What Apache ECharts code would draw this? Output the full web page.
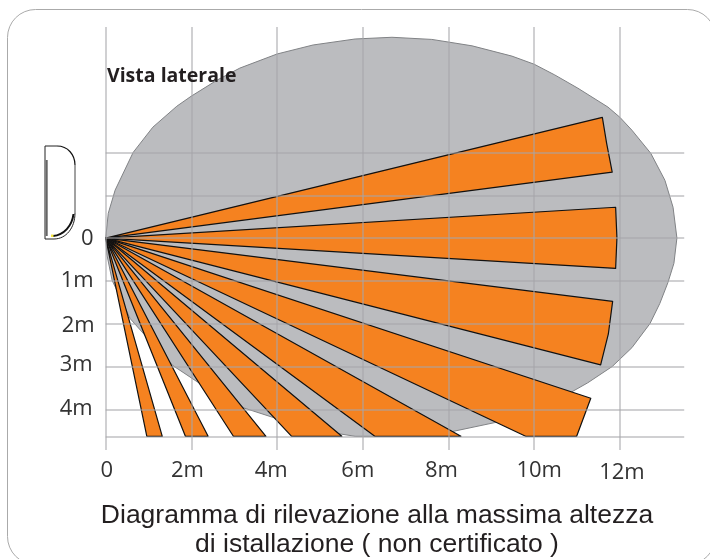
<!DOCTYPE html>
<html>
<head>
	<meta charset="utf-8">
	<title>Vista laterale</title>
	<style>
		html, body { margin: 0; padding: 0; background: #fff; }
		#main { width: 710px; height: 559px; }
	</style>
</head>
<body>
	<div id="main"></div>
	<script src="https://cdn.jsdelivr.net/npm/echarts@6/dist/echarts.min.js"></script>
	<script>
	// tick labels (metres)
	var xTicks = [0, 2, 4, 6, 8, 10, 12];
	var xTickLabels = ['0', '2m', '4m', '6m', '8m', '10m', '12m'];
	var yTicks = [0, -1, -2, -3, -4];
	var yTickLabels = ['0', '1m', '2m', '3m', '4m'];

	// grid lines
	var xGrid = [0, 2, 4, 6, 8, 10, 12];
	var yGrid = [2, 1, 0, -1, -2, -3, -4, -4.63];

	// grey coverage area, [distance, height] in metres
	var coverage = [
		[0, 0], [0.06, 0.58], [0.22, 1.12], [0.64, 2.00], [1.10, 2.59], [1.66, 3.08], [1.99, 3.31],
		[2.60, 3.69], [3.13, 3.97], [4.00, 4.30], [4.84, 4.51], [5.82, 4.65], [6.68, 4.69], [7.61, 4.64],
		[7.99, 4.58], [8.55, 4.49], [9.48, 4.25], [10.00, 4.06], [10.48, 3.81], [11.02, 3.50], [11.72, 3.06],
		[12.00, 2.82], [12.28, 2.52], [12.72, 1.98], [13.05, 1.35], [13.24, 0.72], [13.33, 0], [13.26, -0.59],
		[13.12, -1.04], [12.93, -1.53], [12.70, -2.00], [12.28, -2.56], [11.82, -3.00], [11.25, -3.38],
		[10.88, -3.59], [9.08, -4.31], [7.99, -4.54], [7.45, -4.63], [5.82, -4.63], [5.00, -4.50], [4.00, -4.22],
		[3.20, -3.96], [2.20, -3.40], [1.57, -2.98], [0.96, -2.32], [0.57, -1.88], [0.26, -1.22], [0.15, -0.99],
		[0.03, -0.40]
	];

	// orange detection beams, all start at the sensor [0, 0]
	var beams = [
		[[0, 0], [11.59, 2.82], [11.69, 2.21], [11.82, 1.54]],
		[[0, 0], [11.90, 0.72], [11.93, 0], [11.90, -0.71]],
		[[0, 0], [11.83, -1.48], [11.73, -2.24], [11.55, -2.96]],
		[[0, 0], [11.32, -3.74], [10.99, -4.63], [9.80, -4.63]],
		[[0, 0], [8.29, -4.63], [6.28, -4.63]],
		[[0, 0], [5.51, -4.63], [4.34, -4.63]],
		[[0, 0], [3.74, -4.63], [2.98, -4.63]],
		[[0, 0], [2.39, -4.63], [1.86, -4.63]],
		[[0, 0], [1.32, -4.63], [0.96, -4.63]]
	];

	function polygon(points, api, style) {
		return {
			type: 'polygon',
			shape: { points: points.map(function (p) { return api.coord(p); }) },
			style: style
		};
	}

	// hand placed shift of the labels, they do not sit exactly on the lines
	var xShift = { 0: [1, 0], 2: [-4, 0], 4: [-6, 0], 6: [-5, 0], 8: [-7, 0], 10: [5, 0], 12: [2, 2] };
	var xRich = {};
	xTicks.forEach(function (v) {
		var s = xShift[v][0];
		xRich['t' + v] = { padding: [xShift[v][1], s < 0 ? -2 * s : 0, 0, s > 0 ? 2 * s : 0] };
	});
	// padding top/bottom moves a middle aligned label by half of it
	var yRich = {
		t0: { padding: [1, 1, 0, 0] },
		t1: { padding: [0, 1, 1, 0] },
		t2: { padding: [4, 0, 0, 0] },
		t3: { padding: [0, 2, 4, 0] },
		t4: { padding: [0, 2, 1, 0] }
	};

	var markLineStyle = { color: 'rgba(165,165,170,0.7)', width: 1.5, type: 'solid' };

	var option = {
		animation: false,
		title: [
			{
				text: 'Diagramma di rilevazione alla massima altezza\ndi istallazione ( non certificato )',
				left: 377, top: 501, textAlign: 'center', padding: 0,
				textStyle: { fontFamily: 'Liberation Sans', fontSize: 26.5, fontWeight: 'normal', color: '#231f20', lineHeight: 29, align: 'center' }
			},
			{
				text: 'Vista laterale',
				left: 107, top: 66, padding: 0,
				textStyle: { fontFamily: 'Open Sans', fontSize: 19.5, fontWeight: 'bold', color: '#231f20' }
			}
		],
		grid: { left: 105.7, width: 578.5, top: 27, height: 423 },
		xAxis: {
			type: 'value', min: 0, max: 13.5,
			axisLine: { show: false }, axisTick: { show: false }, splitLine: { show: false },
			axisLabel: {
				customValues: xTicks,
				margin: 10,
				hideOverlap: false,
				fontFamily: 'Open Sans', fontSize: 22, color: '#333',
				rich: xRich,
				formatter: function (v) { return '{t' + v + '|' + xTickLabels[xTicks.indexOf(v)] + '}'; }
			}
		},
		yAxis: {
			type: 'value', min: -4.95, max: 4.93,
			axisLine: { show: false }, axisTick: { show: false }, splitLine: { show: false },
			axisLabel: {
				customValues: yTicks,
				margin: 11,
				fontFamily: 'Open Sans', fontSize: 22, color: '#333',
				rich: yRich,
				formatter: function (v) { var i = yTicks.indexOf(v); return '{t' + i + '|' + yTickLabels[i] + '}'; }
			}
		},
		series: [
			{
				type: 'custom', silent: true, z: 2,
				data: [[0]],
				renderItem: function (params, api) {
					return polygon(coverage, api, { fill: '#bbbcbf', stroke: '#808285', lineWidth: 1 });
				}
			},
			{
				type: 'custom', silent: true, z: 3,
				data: beams.map(function (b, i) { return [i]; }),
				renderItem: function (params, api) {
					return polygon(beams[api.value(0)], api, { fill: '#f58220', stroke: '#111', lineWidth: 1.2, lineJoin: 'round' });
				},
				markLine: {
					silent: true, symbol: 'none', label: { show: false }, z: 5,
					lineStyle: markLineStyle,
					data: xGrid.map(function (v) { return { xAxis: v }; }).concat(yGrid.map(function (v) { return { yAxis: v }; }))
				}
			}
		],
		graphic: [
			// outer frame, runs off the right and bottom of the picture
			{ type: 'rect', z: 0, shape: { x: 7.5, y: 9.5, width: 708, height: 555, r: 28 }, style: { fill: 'none', stroke: '#aaa', lineWidth: 1 } },
			// sensor drawing
			{ type: 'polyline', z: 10, shape: { points: [[57, 146], [45, 146], [45, 239], [54, 239]] }, style: { fill: 'none', stroke: '#222', lineWidth: 1 } },
			{ type: 'bezierCurve', z: 10, shape: { x1: 57, y1: 146, cpx1: 68, cpy1: 146, cpx2: 75, cpy2: 155, x2: 75, y2: 165 }, style: { fill: 'none', stroke: '#111', lineWidth: 1.2 } },
			{ type: 'line', z: 10, shape: { x1: 75, y1: 165, x2: 75, y2: 213 }, style: { stroke: '#444', lineWidth: 1 } },
			{ type: 'bezierCurve', z: 10, shape: { x1: 75, y1: 213, cpx1: 75, cpy1: 228, cpx2: 66, cpy2: 239, x2: 54, y2: 239 }, style: { fill: 'none', stroke: '#222', lineWidth: 1 } },
			{ type: 'line', z: 10, shape: { x1: 46.7, y1: 160, x2: 46.7, y2: 236 }, style: { stroke: '#666', lineWidth: 2 } },
			{ type: 'bezierCurve', z: 10, shape: { x1: 73.5, y1: 214, cpx1: 72, cpy1: 226, cpx2: 64, cpy2: 235, x2: 53, y2: 236 }, style: { fill: 'none', stroke: '#111', lineWidth: 2 } },
			{ type: 'rect', z: 10, shape: { x: 51, y: 234.5, width: 2.5, height: 2.5 }, style: { fill: '#f5e642' } }
		]
	};

	var myChart = echarts.init(document.getElementById('main'), null, { renderer: 'canvas' });
	myChart.setOption(option);
	</script>
</body>
</html>
